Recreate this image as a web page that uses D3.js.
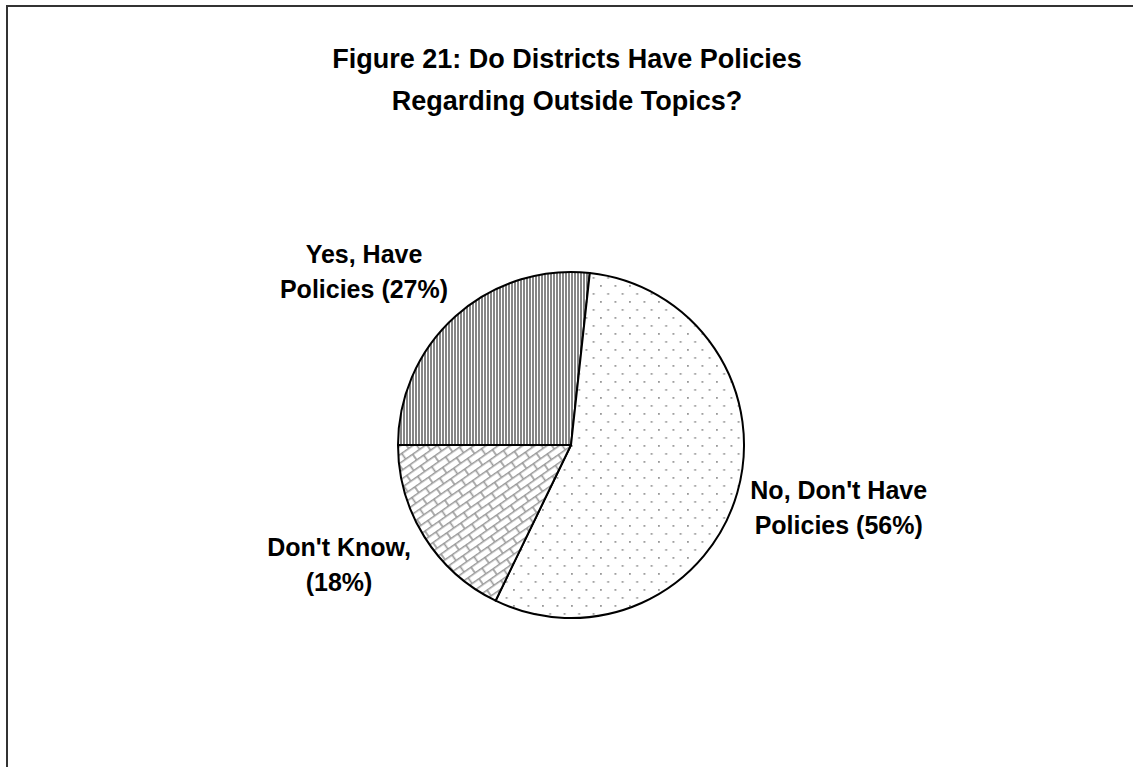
<!DOCTYPE html>
<html>
<head>
<meta charset="utf-8">
<script src="https://cdn.jsdelivr.net/npm/d3@7"></script>
<style>
    body { margin: 0; background: #fff; }
    svg { display: block; }
</style>
</head>
<body>
<script>
// data
let categories = ["Yes, Have Policies", "No, Don't Have Policies", "Don't Know,"];
let values = [27, 56, 18];
let labelLines = [["Yes, Have", "Policies (27%)"], ["No, Don't Have", "Policies (56%)"], ["Don't Know,", "(18%)"]];
let titleLines = ["Figure 21: Do Districts Have Policies", "Regarding Outside Topics?"];

let width = 1133, height = 767;
let cx = 571, cy = 445, radius = 173;

let svg = d3.select("body").append("svg")
    .attr("width", width)
    .attr("height", height);

// frame runs off the right and bottom edges
svg.append("rect")
    .attr("x", 7).attr("y", 6)
    .attr("width", width + 20).attr("height", height + 20)
    .attr("fill", "#fff")
    .attr("stroke", "#333")
    .attr("stroke-width", 2);

let defs = svg.append("defs");

// vertical stripes
let stripes = defs.append("pattern")
    .attr("id", "stripes")
    .attr("patternUnits", "userSpaceOnUse")
    .attr("width", 3).attr("height", 3);
stripes.append("rect").attr("width", 3).attr("height", 3).attr("fill", "#fff");
stripes.append("rect").attr("width", 2).attr("height", 3).attr("fill", "#858585");

// sparse dots
let dots = defs.append("pattern")
    .attr("id", "dots")
    .attr("patternUnits", "userSpaceOnUse")
    .attr("width", 14.5).attr("height", 16);
dots.append("rect").attr("width", 14.5).attr("height", 16).attr("fill", "#fff");
dots.append("rect").attr("x", 0).attr("y", 0).attr("width", 1.8).attr("height", 1.8).attr("fill", "#999");
dots.append("rect").attr("x", 7.25).attr("y", 8).attr("width", 1.8).attr("height", 1.8).attr("fill", "#999");

// diagonal bricks
let bricks = defs.append("pattern")
    .attr("id", "bricks")
    .attr("patternUnits", "userSpaceOnUse")
    .attr("width", 17).attr("height", 14)
    .attr("patternTransform", "rotate(-35)");
bricks.append("rect").attr("width", 17).attr("height", 14).attr("fill", "#fff");
bricks.append("path")
    .attr("d", "M0,0.8H17M0,7.8H17M1,0V7.8M9.5,7.8V14")
    .attr("stroke", "#999")
    .attr("stroke-width", 1.6)
    .attr("fill", "none");

let fills = ["url(#stripes)", "url(#dots)", "url(#bricks)"];

let pie = d3.pie()
    .sort(null)
    .value(d => d)
    .startAngle(-Math.PI / 2)
    .endAngle(1.5 * Math.PI);
let arcs = pie(values);
let arc = d3.arc().innerRadius(0).outerRadius(radius);

let g = svg.append("g").attr("transform", `translate(${cx},${cy})`);
g.selectAll("path")
    .data(arcs)
    .join("path")
    .attr("d", arc)
    .attr("fill", (d, i) => fills[i])
    .attr("stroke", "#000")
    .attr("stroke-width", 2)
    .attr("stroke-linejoin", "round");

// title
svg.append("text")
    .attr("x", 567).attr("y", 68)
    .attr("text-anchor", "middle")
    .attr("font-family", "Liberation Sans, Arial, sans-serif")
    .attr("font-weight", "bold")
    .attr("font-size", 27)
    .selectAll("tspan")
    .data(titleLines)
    .join("tspan")
    .attr("x", 567)
    .attr("dy", (d, i) => i === 0 ? 0 : 42)
    .text(d => d);

// labels sit outside the slices, placed from the mid angle
let labelRadius = [1.42, 1.55, 1.48];
let labelShift = [[-43, 1], [10, -20], [-15, -25]];
arcs.forEach((a, i) => {
    let mid = (a.startAngle + a.endAngle) / 2;
    let x = radius * labelRadius[i] * Math.sin(mid) + labelShift[i][0];
    let y = -radius * labelRadius[i] * Math.cos(mid) + labelShift[i][1];
    g.append("text")
        .attr("text-anchor", "middle")
        .attr("font-family", "Liberation Sans, Arial, sans-serif")
        .attr("font-weight", "bold")
        .attr("font-size", 25)
        .selectAll("tspan")
        .data(labelLines[i])
        .join("tspan")
        .attr("x", x)
        .attr("y", (d, j) => y + j * 35)
        .text(d => d);
});
</script>
</body>
</html>
